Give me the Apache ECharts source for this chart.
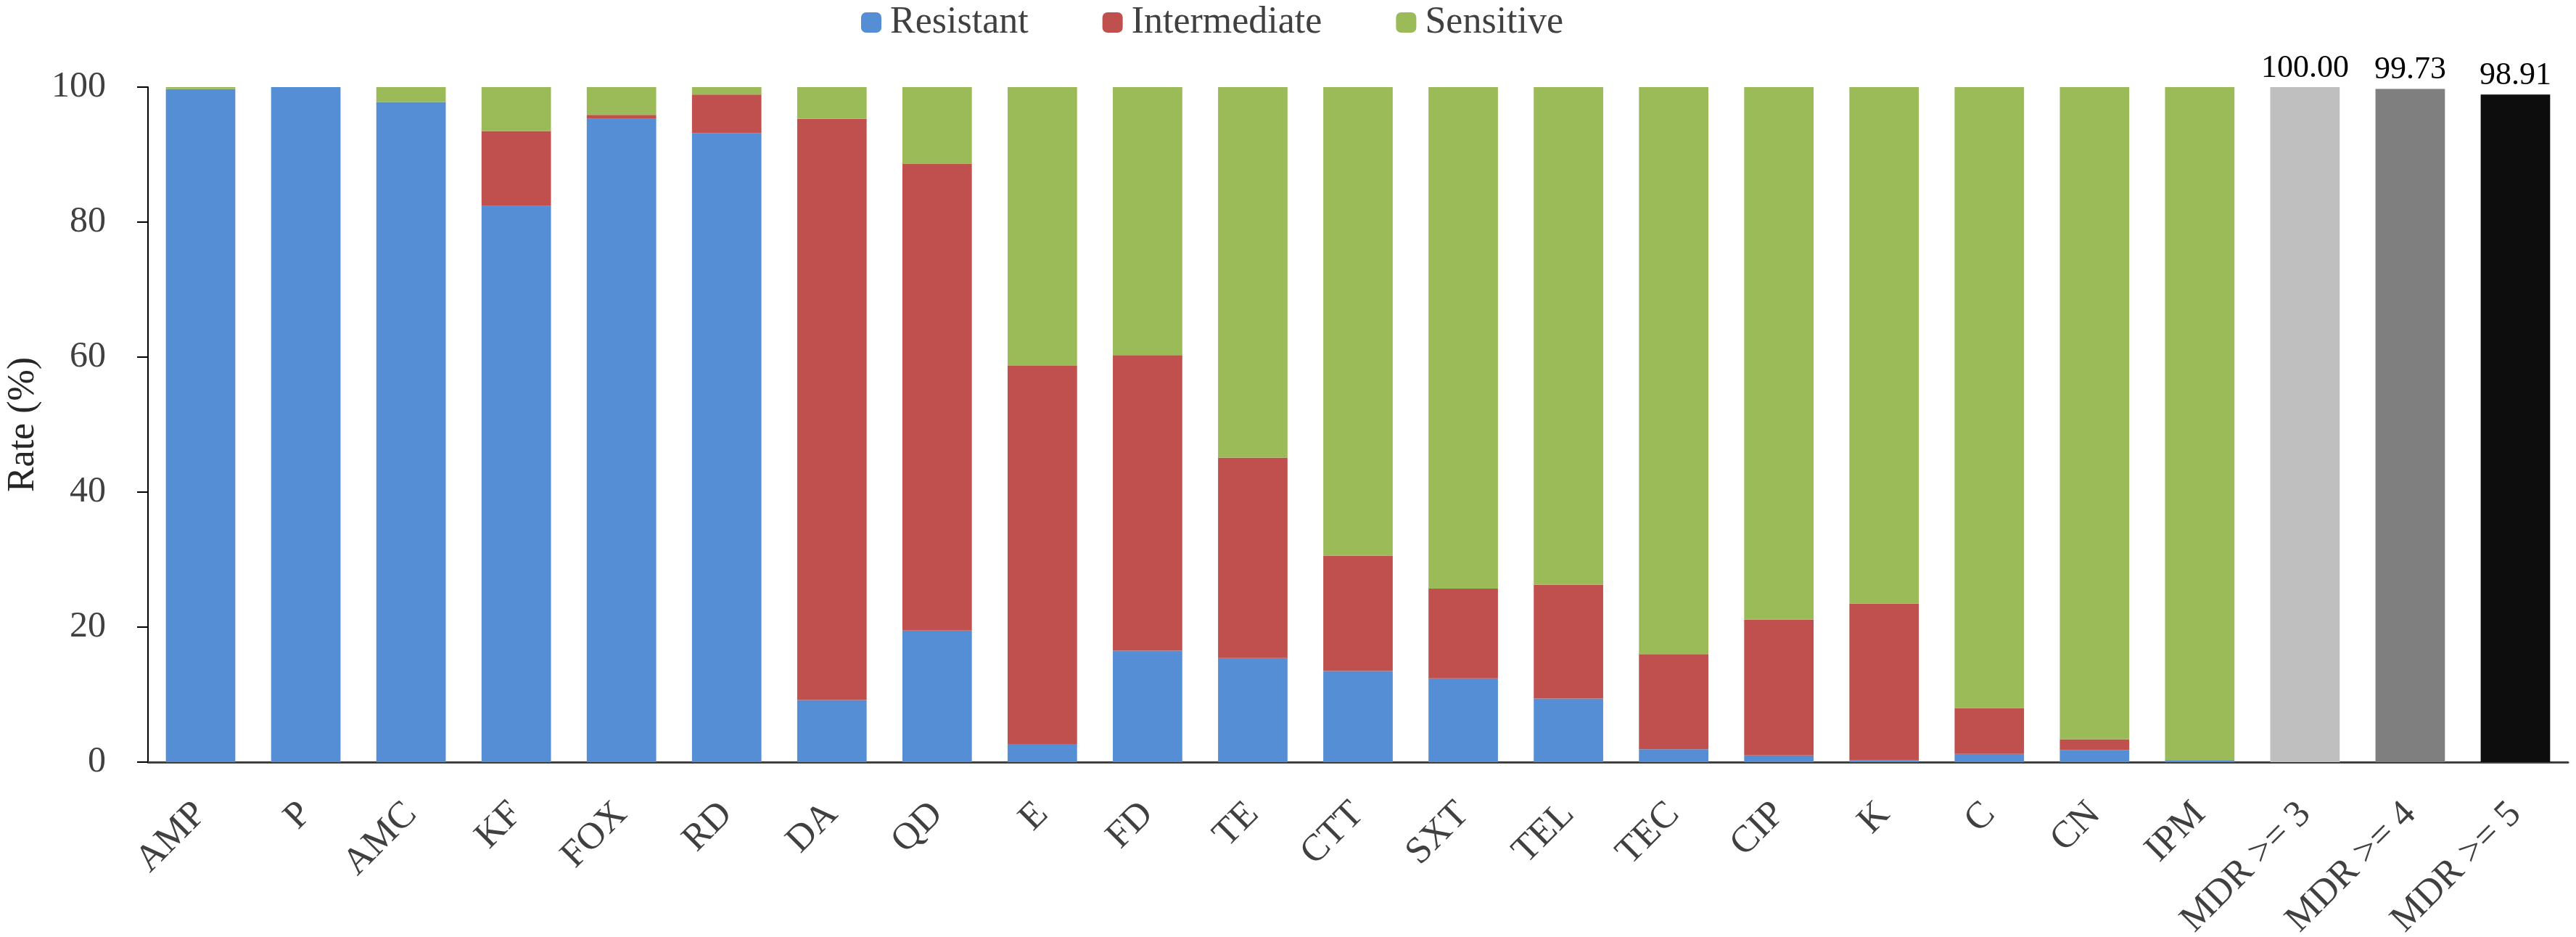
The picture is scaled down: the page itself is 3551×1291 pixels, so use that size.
<!DOCTYPE html>
<html>
<head>
<meta charset="utf-8">
<script src="https://cdn.jsdelivr.net/npm/echarts@6/dist/echarts.min.js"></script>
<style>
  html, body { margin: 0; padding: 0; background: #fff; }
  #chart { width: 3551px; height: 1291px; }
</style>
</head>
<body>
<div id="chart"></div>
<script>
// 항생제별 내성률 (%)
var categories = ['AMP', 'P', 'AMC', 'KF', 'FOX', 'RD', 'DA', 'QD', 'E', 'FD', 'TE', 'CTT',
  'SXT', 'TEL', 'TEC', 'CIP', 'K', 'C', 'CN', 'IPM', 'MDR >= 3', 'MDR >= 4', 'MDR >= 5'];

var resistant    = [99.7, 100, 97.8, 82.4, 95.3, 93.2, 9.2, 19.5, 2.7, 16.5, 15.4, 13.5,
  12.4, 9.4, 1.9, 1.0, 0.3, 1.2, 1.8, 0.3, '-', '-', '-'];
var intermediate = [0, 0, 0, 11.1, 0.6, 5.7, 86.1, 69.1, 56.0, 43.8, 29.7, 17.1,
  13.3, 16.9, 14.1, 20.1, 23.2, 6.8, 1.6, 0, '-', '-', '-'];
var sensitive    = [0.3, 0, 2.2, 6.5, 4.1, 1.1, 4.7, 11.4, 41.3, 39.7, 54.9, 69.4,
  74.3, 73.7, 84.0, 78.9, 76.5, 92.0, 96.6, 99.7, '-', '-', '-'];
var mdr = ['-', '-', '-', '-', '-', '-', '-', '-', '-', '-', '-', '-',
  '-', '-', '-', '-', '-', '-', '-', '-', 100.00, 99.73, 98.91];
var mdrColors = ['#BFBFBF', '#7F7F7F', '#0D0D0D'];

window.onload = function() {
  drawChart();
};

function drawChart() {
  var myChart = echarts.init(document.getElementById('chart'));
  var font = 'Liberation Serif';

  var mdrData = mdr.map(function(v, i) {
    if (v === '-') return v;
    return { value: v, itemStyle: { color: mdrColors[i - 20] } };
  });

  var option = {
    backgroundColor: '#fff',
    textStyle: { fontFamily: font },
    legend: {
      data: ['Resistant', 'Intermediate', 'Sensitive'],
      left: 1182,
      top: 0,
      itemWidth: 28,
      itemHeight: 28,
      itemGap: 102,
      textStyle: { fontFamily: font, fontSize: 52, color: '#404040', padding: [0, 0, 0, 7] }
    },
    grid: { left: 204, right: 11, top: 120, bottom: 241, containLabel: false, outerBoundsMode: 'none' },
    xAxis: {
      type: 'category',
      data: categories,
      axisLine: { lineStyle: { color: '#404040', width: 3 } },
      axisTick: { alignWithLabel: true, length: 12, lineStyle: { color: '#000', width: 2 } },
      axisLabel: { rotate: 45, margin: 64, fontFamily: font, fontSize: 52, color: '#404040' }
    },
    yAxis: {
      type: 'value',
      min: 0,
      max: 100,
      interval: 20,
      name: 'Rate (%)',
      nameLocation: 'middle',
      nameGap: 146,
      nameTextStyle: { fontFamily: font, fontSize: 52, color: '#262626' },
      splitLine: { show: false },
      axisLine: { show: true, lineStyle: { color: '#000', width: 2 } },
      axisTick: { show: true, length: 15, lineStyle: { color: '#000', width: 2 } },
      axisLabel: { fontFamily: font, fontSize: 50, color: '#404040', margin: 58 }
    },
    series: [
      { name: 'Resistant', type: 'bar', stack: 'rate', barCategoryGap: '34%',
        itemStyle: { color: '#558ED5' }, data: resistant },
      { name: 'Intermediate', type: 'bar', stack: 'rate',
        itemStyle: { color: '#C0504D' }, data: intermediate },
      { name: 'Sensitive', type: 'bar', stack: 'rate',
        itemStyle: { color: '#9BBB59' }, data: sensitive },
      { name: 'MDR', type: 'bar', stack: 'rate',
        label: {
          show: true, position: 'top', distance: 4,
          fontFamily: font, fontSize: 44, color: '#000',
          formatter: function(p) { return p.value.toFixed(2); }
        },
        data: mdrData }
    ]
  };

  myChart.setOption(option);
}
</script>
</body>
</html>
